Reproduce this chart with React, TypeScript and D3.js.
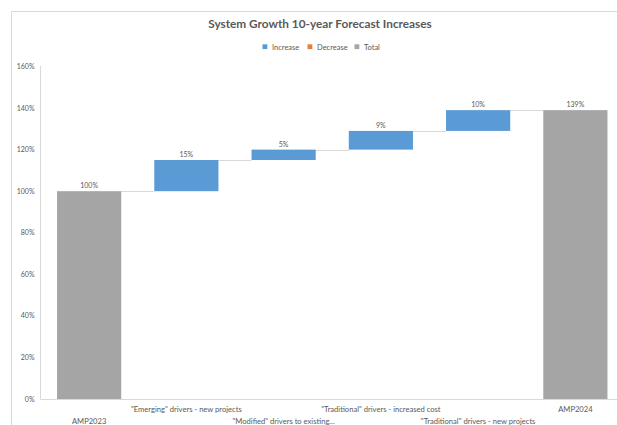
import React from "react";
import * as d3 from "d3";

const categories = [
  "AMP2023",
  "\"Emerging\" drivers - new projects",
  "\"Modified\" drivers to existing...",
  "\"Traditional\" drivers - increased cost",
  "\"Traditional\" drivers - new projects",
  "AMP2024",
];
const values = [1.0, 0.15, 0.05, 0.09, 0.1, 1.39];
const labels = ["100%", "15%", "5%", "9%", "10%", "139%"];
const isTotal = [true, false, false, false, false, true];
const yTicks = [0, 0.2, 0.4, 0.6, 0.8, 1.0, 1.2, 1.4, 1.6];
const legendItems = ["Increase", "Decrease", "Total"];

const COLORS: Record<string, string> = {
  Increase: "#5B9BD5",
  Decrease: "#ED7D31",
  Total: "#A5A5A5",
};
const FONT = "Lato, 'Open Sans', sans-serif";
const TEXT = "#595959";

export default function App() {
  const W = 617;
  const H = 425;
  const x = d3.scaleBand<string>().domain(categories).range([40.5, 624]).paddingInner(0.34).paddingOuter(0.17);
  const y = d3.scaleLinear().domain([0, 1.6]).range([399, 66.5]);

  let running = 0;
  const segs = values.map((v, i) => {
    let start: number, end: number;
    if (isTotal[i]) {
      start = 0;
      end = v;
      running = v;
    } else {
      start = running;
      end = running + v;
      running = end;
    }
    return { cat: categories[i], start, end, total: isTotal[i], label: labels[i], v };
  });

  const legendX = [262.5, 307.5, 354.5];

  return (
    <svg width={W} height={H} style={{ position: "absolute", left: 0, top: 0, background: "#fff" }} fontFamily={FONT}>
      <rect x={0} y={0} width={W} height={H} fill="#fff" />
      <line x1={11.5} y1={11.5} x2={W} y2={11.5} stroke="#D9D9D9" />
      <line x1={11.5} y1={11.5} x2={11.5} y2={H} stroke="#D9D9D9" />

      <text x={320} y={28} textAnchor="middle" fontSize={11.8} fontWeight="bold" fill={TEXT}>
        System Growth 10-year Forecast Increases
      </text>

      {legendItems.map((k, i) => (
        <g key={k}>
          <rect x={legendX[i]} y={44.3} width={4.8} height={4.8} fill={COLORS[k]} />
          <text x={legendX[i] + 9.5} y={49.5} fontSize={7.5} fill={TEXT}>
            {k}
          </text>
        </g>
      ))}

      <line x1={40.5} y1={66} x2={40.5} y2={399.5} stroke="#D9D9D9" />
      <line x1={40.5} y1={399.5} x2={W} y2={399.5} stroke="#D9D9D9" />
      {yTicks.map((t) => (
        <text key={t} x={34.5} y={y(t) + 2.5} textAnchor="end" fontSize={7} fill={TEXT}>
          {d3.format(".0%")(t)}
        </text>
      ))}

      {segs.slice(0, -1).map((s, i) => {
        const next = segs[i + 1];
        const lvl = s.end;
        return (
          <line
            key={"c" + i}
            x1={(x(s.cat) as number) + x.bandwidth()}
            x2={x(next.cat) as number}
            y1={Math.round(y(lvl)) + 0.5}
            y2={Math.round(y(lvl)) + 0.5}
            stroke="#D9D9D9"
          />
        );
      })}

      {segs.map((s) => (
        <rect
          key={s.cat}
          x={x(s.cat)}
          y={y(Math.max(s.start, s.end))}
          width={x.bandwidth()}
          height={Math.abs(y(s.start) - y(s.end))}
          fill={s.total ? COLORS.Total : s.v >= 0 ? COLORS.Increase : COLORS.Decrease}
        />
      ))}

      {segs.map((s) => (
        <text
          key={"l" + s.cat}
          x={(x(s.cat) as number) + x.bandwidth() / 2}
          y={y(Math.max(s.start, s.end)) - 3}
          textAnchor="middle"
          fontSize={7}
          fill={TEXT}
        >
          {s.label}
        </text>
      ))}

      {categories.map((c, i) => (
        <text
          key={"x" + c}
          x={(x(c) as number) + x.bandwidth() / 2}
          y={i % 2 === 0 ? 423.5 : 412}
          textAnchor="middle"
          fontSize={7.6}
          fill={TEXT}
        >
          {c}
        </text>
      ))}
    </svg>
  );
}
